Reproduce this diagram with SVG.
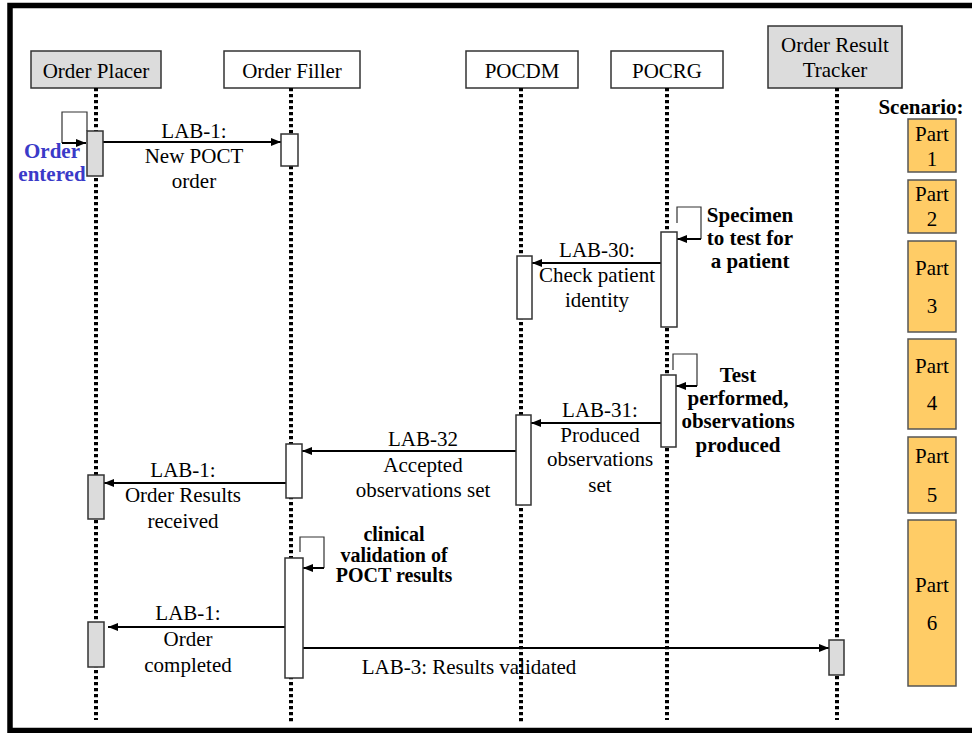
<svg xmlns="http://www.w3.org/2000/svg" width="972" height="733" viewBox="0 0 972 733">
<style>
  text { font-family: "Liberation Serif", "Times New Roman", serif; font-size: 21px; fill: #000; text-anchor: middle; }
  .b { font-weight: bold; }
  .sm { font-size: 20px; }
  .blue { fill: #3a3ac8; font-weight: bold; }
  .hdr { stroke: #333; stroke-width: 1.5; }
  .grey { fill: #dcdcdc; }
  .white { fill: #fff; }
  .life { stroke: #000; stroke-width: 4; stroke-dasharray: 3.3 2.7; fill: none; }
  .act { stroke: #333; stroke-width: 1.5; }
  .msg { stroke: #000; stroke-width: 2; fill: none; marker-end: url(#ah); }
  .loop { stroke: #333; stroke-width: 1.2; fill: none; }
  .part { fill: #ffcc66; stroke: #555; stroke-width: 1.5; }
</style>
<defs>
  <marker id="ah" viewBox="0 0 10 8" refX="10" refY="4" markerWidth="10" markerHeight="8" markerUnits="userSpaceOnUse" orient="auto">
    <path d="M0,0 L10,4 L0,8 z" fill="#000"/>
  </marker>
</defs>
<rect x="0" y="0" width="972" height="733" fill="#fff"/>
<rect x="10" y="5.5" width="985" height="725" fill="none" stroke="#000" stroke-width="5.5"/>

<g id="connectors">
  <!-- Order entered self-loop -->
  <polyline class="loop" points="87,131 87,112 62,112 62,143"/>
  <line class="msg" x1="62" y1="143" x2="86" y2="143"/>
  <text class="blue" x="52" y="158">Order</text>
  <text class="blue" x="52" y="181">entered</text>

  <!-- LAB-1 New POCT order -->
  <line class="msg" x1="102" y1="142" x2="281" y2="142"/>
  <text x="194" y="138">LAB-1:</text>
  <text x="194" y="163">New POCT</text>
  <text x="194" y="188">order</text>

  <!-- Specimen self-loop -->
  <polyline class="loop" points="677,223 677,207 701,207 701,239"/>
  <line class="msg" x1="701" y1="239" x2="677" y2="239"/>
  <text class="b" x="750" y="222">Specimen</text>
  <text class="b" x="750" y="245">to test for</text>
  <text class="b" x="750" y="268">a patient</text>

  <!-- LAB-30 -->
  <line class="msg" x1="661" y1="263" x2="532" y2="263"/>
  <text x="597" y="257">LAB-30:</text>
  <text x="597" y="282">Check patient</text>
  <text x="597" y="307">identity</text>

  <!-- Test performed self-loop -->
  <polyline class="loop" points="673,370 673,354 697,354 697,386"/>
  <line class="msg" x1="697" y1="386" x2="676" y2="386"/>
  <text class="b" x="738" y="382">Test</text>
  <text class="b" x="738" y="405">performed,</text>
  <text class="b" x="738" y="428">observations</text>
  <text class="b" x="738" y="452">produced</text>

  <!-- LAB-31 -->
  <line class="msg" x1="661" y1="423" x2="531" y2="423"/>
  <text x="600" y="417">LAB-31:</text>
  <text x="600" y="442">Produced</text>
  <text x="600" y="466">observations</text>
  <text x="600" y="492">set</text>

  <!-- LAB-32 -->
  <line class="msg" x1="516" y1="451" x2="302" y2="451"/>
  <text x="423" y="446">LAB-32</text>
  <text x="423" y="472">Accepted</text>
  <text x="423" y="497">observations set</text>

  <!-- LAB-1 Order Results received -->
  <line class="msg" x1="286" y1="483" x2="104" y2="483"/>
  <text x="183" y="477">LAB-1:</text>
  <text x="183" y="502">Order Results</text>
  <text x="183" y="528">received</text>

  <!-- clinical validation self-loop -->
  <polyline class="loop" points="300,552 300,537 324,537 324,568"/>
  <line class="msg" x1="324" y1="568" x2="303" y2="568"/>
  <text class="b sm" x="394" y="541">clinical</text>
  <text class="b sm" x="394" y="561.5">validation of</text>
  <text class="b sm" x="394" y="582">POCT results</text>

  <!-- LAB-1 Order completed -->
  <line class="msg" x1="285" y1="627" x2="108" y2="627"/>
  <text x="188" y="620">LAB-1:</text>
  <text x="188" y="646">Order</text>
  <text x="188" y="672">completed</text>

  <!-- LAB-3 -->
  <line class="msg" x1="303" y1="648" x2="829" y2="648"/>
  <text x="469" y="674">LAB-3: Results validated</text>
</g>

<g id="order-placer">
  <rect class="hdr grey" x="31" y="51" width="130" height="37"/>
  <text x="96" y="78">Order Placer</text>
  <line class="life" x1="96" y1="88" x2="96" y2="720"/>
  <rect class="act grey" x="87" y="131" width="16" height="45"/>
  <rect class="act grey" x="88" y="475" width="16" height="44"/>
  <rect class="act grey" x="88" y="622" width="16" height="45"/>
</g>

<g id="order-filler">
  <rect class="hdr white" x="224" y="51" width="136" height="37"/>
  <text x="292" y="78">Order Filler</text>
  <line class="life" x1="291" y1="88" x2="291" y2="722"/>
  <rect class="act white" x="281" y="134" width="17" height="32"/>
  <rect class="act white" x="286" y="444" width="16" height="54"/>
  <rect class="act white" x="285" y="558" width="18" height="120"/>
</g>

<g id="pocdm">
  <rect class="hdr white" x="466" y="51" width="112" height="37"/>
  <text x="522" y="78">POCDM</text>
  <line class="life" x1="521" y1="88" x2="521" y2="722"/>
  <rect class="act white" x="517" y="256" width="15" height="63"/>
  <rect class="act white" x="516" y="415" width="15" height="90"/>
</g>

<g id="pocrg">
  <rect class="hdr white" x="611" y="51" width="112" height="37"/>
  <text x="667" y="78">POCRG</text>
  <line class="life" x1="667" y1="88" x2="667" y2="720"/>
  <rect class="act white" x="661" y="232" width="16" height="95"/>
  <rect class="act white" x="661" y="375" width="15" height="72"/>
</g>

<g id="order-result-tracker">
  <rect class="hdr grey" x="768" y="26" width="134" height="62"/>
  <text x="835" y="52">Order Result</text>
  <text x="835" y="77">Tracker</text>
  <line class="life" x1="837" y1="88" x2="837" y2="720"/>
  <rect class="act grey" x="829" y="640" width="15" height="35"/>
</g>

<g id="scenario">
  <text class="b" x="921" y="114">Scenario:</text>
  <g id="part1">
    <rect class="part" x="908" y="119" width="48" height="53"/>
    <text x="932" y="141">Part</text>
    <text x="932" y="166">1</text>
  </g>
  <g id="part2">
    <rect class="part" x="908" y="180" width="48" height="53"/>
    <text x="932" y="201">Part</text>
    <text x="932" y="226">2</text>
  </g>
  <g id="part3">
    <rect class="part" x="908" y="241" width="48" height="91"/>
    <text x="932" y="275">Part</text>
    <text x="932" y="313">3</text>
  </g>
  <g id="part4">
    <rect class="part" x="908" y="339" width="48" height="90"/>
    <text x="932" y="373">Part</text>
    <text x="932" y="410">4</text>
  </g>
  <g id="part5">
    <rect class="part" x="908" y="437" width="48" height="76"/>
    <text x="932" y="463">Part</text>
    <text x="932" y="502">5</text>
  </g>
  <g id="part6">
    <rect class="part" x="908" y="520" width="48" height="166"/>
    <text x="932" y="592">Part</text>
    <text x="932" y="630">6</text>
  </g>
</g>
</svg>
